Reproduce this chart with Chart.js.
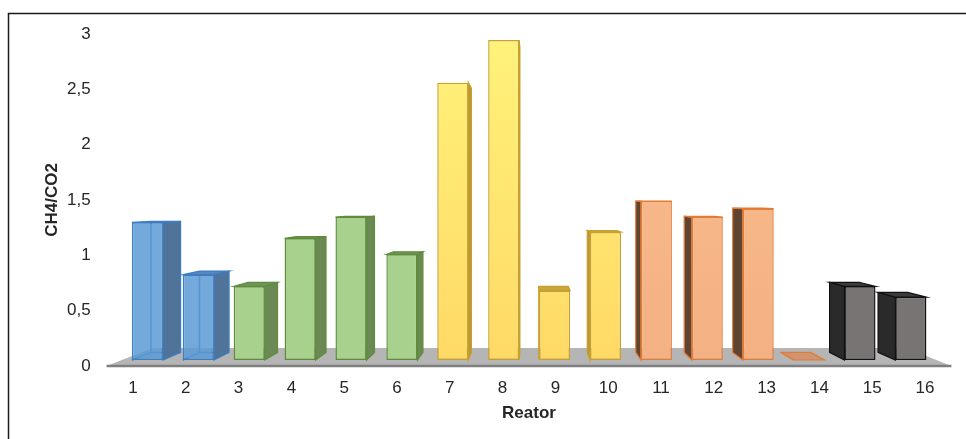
<!DOCTYPE html>
<html>
<head>
<meta charset="utf-8">
<script src="https://cdn.jsdelivr.net/npm/chart.js@4"></script>
<style>
  body { margin: 0; background: #fff; }
  #grafico { display: block; }
</style>
</head>
<body>
<canvas id="grafico" width="966" height="439"></canvas>
<script>
// dados
const reatores = ['1', '2', '3', '4', '5', '6', '7', '8', '9', '10', '11', '12', '13', '14', '15', '16'];
const ch4co2 = [1.29, 0.80, 0.69, 1.14, 1.34, 0.99, 2.60, 3.00, 0.65, 1.20, 1.49, 1.34, 1.42, 0, 0.69, 0.59];
const grupos = ['azul', 'azul', 'verde', 'verde', 'verde', 'verde', 'amarelo', 'amarelo', 'amarelo', 'amarelo',
                'laranja', 'laranja', 'laranja', 'laranja', 'preto', 'preto'];
const yMin = 0, yMax = 3, yPasso = 0.5;

// cores por grupo: frente, lateral, topo, borda
const cores = {
    azul:    { frente: 'rgba(91,155,213,0.85)', lateral: '#4f7399', topo: '#5a86b8', borda: '#3c7dc4', transparente: true },
    verde:   { frente: '#a9d18e', lateral: '#6b8a53', topo: '#6f9457', borda: '#5e8c3c' },
    amarelo: { frente: ['#fff27a', '#ffd966'], lateral: '#b8963a', topo: '#c8a540', borda: '#c9a02a' },
    laranja: { frente: ['#fbbd8e', '#f4b183'], lateral: '#5e4432', topo: '#cf9470', borda: '#e47b35' },
    preto:   { frente: '#787473', lateral: '#2b2a2a', topo: '#3d3c3c', borda: '#111111' }
};

// perspectiva (ponto de fuga e escalas das faces)
const PF = { x: 533, y: 200 };
const S_FRENTE = 0.964, S_FUNDO = 0.918, S_PISO = 0.892;

function proj(x, y, s) {
    return [PF.x + (x - PF.x) * s, PF.y + (y - PF.y) * s];
}

function poligono(ctx, pts, fill, stroke, lw) {
    ctx.beginPath();
    ctx.moveTo(pts[0][0], pts[0][1]);
    for (let i = 1; i < pts.length; i++) ctx.lineTo(pts[i][0], pts[i][1]);
    ctx.closePath();
    if (fill) { ctx.fillStyle = fill; ctx.fill(); }
    if (stroke) { ctx.strokeStyle = stroke; ctx.lineWidth = lw || 1; ctx.stroke(); }
}

function corFrente(ctx) {
    const c = cores[grupos[ctx.dataIndex]];
    if (!Array.isArray(c.frente)) return c.frente;
    const area = ctx.chart.chartArea;
    if (!area) return c.frente[1];
    const g = ctx.chart.ctx.createLinearGradient(0, area.top, 0, area.bottom);
    g.addColorStop(0, c.frente[0]);
    g.addColorStop(1, c.frente[1]);
    return g;
}

// desenha piso, laterais e topos; a frente fica com o Chart.js
const perspectiva = {
    id: 'perspectiva',
    beforeDatasetsDraw(chart) {
        const ctx = chart.ctx, a = chart.chartArea;
        ctx.save();
        poligono(ctx, [proj(a.left, a.bottom, 1), proj(a.right, a.bottom, 1),
                       proj(a.right, a.bottom, S_PISO), proj(a.left, a.bottom, S_PISO)], '#b5b5b5');
        ctx.strokeStyle = '#7f7f7f';
        ctx.lineWidth = 2.5;
        ctx.beginPath();
        ctx.moveTo(a.left, a.bottom);
        ctx.lineTo(a.right, a.bottom);
        ctx.stroke();

        const meta = chart.getDatasetMeta(0);
        meta.data.forEach((barra, i) => {
            const p = barra.getProps(['x', 'y', 'base', 'width'], true);
            const l = p.x - p.width / 2, r = p.x + p.width / 2;
            const c = cores[grupos[i]];
            const fTL = proj(l, p.y, S_FRENTE), fTR = proj(r, p.y, S_FRENTE);
            const fBL = proj(l, p.base, S_FRENTE), fBR = proj(r, p.base, S_FRENTE);
            const bTL = proj(l, p.y, S_FUNDO), bTR = proj(r, p.y, S_FUNDO);
            const bBL = proj(l, p.base, S_FUNDO), bBR = proj(r, p.base, S_FUNDO);

            if (c.transparente) {
                ctx.strokeStyle = '#2f6fc0';
                ctx.lineWidth = 1.5;
                ctx.beginPath();
                ctx.moveTo(bTL[0], bTL[1]); ctx.lineTo(bBL[0], bBL[1]); ctx.lineTo(bBR[0], bBR[1]);
                ctx.moveTo(fBL[0], fBL[1]); ctx.lineTo(bBL[0], bBL[1]);
                ctx.stroke();
            }
            if (p.x < PF.x) {
                poligono(ctx, [fTR, bTR, bBR, fBR], c.lateral, c.borda, 1.2);
            } else {
                poligono(ctx, [fTL, bTL, bBL, fBL], c.lateral, c.borda, 1.2);
            }
            if (bTL[1] < fTL[1]) {
                poligono(ctx, [fTL, fTR, bTR, bTL], c.topo, c.borda, 1.2);
            }
        });
        ctx.restore();

        ctx.save();
        ctx.translate(PF.x, PF.y);
        ctx.scale(S_FRENTE, S_FRENTE);
        ctx.translate(-PF.x, -PF.y);
    },
    afterDatasetsDraw(chart) {
        chart.ctx.restore();
    },
    afterDraw(chart) {
        const ctx = chart.ctx;
        ctx.save();
        ctx.strokeStyle = '#1a1a1a';
        ctx.lineWidth = 1.5;
        ctx.beginPath();
        ctx.moveTo(8.5, chart.height);
        ctx.lineTo(8.5, 13.5);
        ctx.lineTo(chart.width, 13.5);
        ctx.stroke();
        ctx.restore();
    }
};

Chart.defaults.font.family = "'Liberation Sans', Arial, sans-serif";
Chart.defaults.color = '#262626';

new Chart(document.getElementById('grafico'), {
    type: 'bar',
    data: {
        labels: reatores,
        datasets: [{
            data: ch4co2,
            backgroundColor: corFrente,
            borderColor: ctx => cores[grupos[ctx.dataIndex]].borda,
            borderWidth: 1.5,
            borderSkipped: false,
            barPercentage: 0.61,
            categoryPercentage: 1,
            clip: false
        }]
    },
    options: {
        responsive: false,
        animation: false,
        layout: { padding: { top: 34, right: 14.6, left: 0, bottom: 0 } },
        plugins: {
            legend: { display: false },
            tooltip: { enabled: false }
        },
        scales: {
            x: {
                offset: true,
                grid: { display: false, drawTicks: false },
                border: { display: false },
                ticks: { font: { size: 17 }, padding: 12 },
                title: {
                    display: true,
                    text: 'Reator',
                    font: { size: 17, weight: 'bold' },
                    padding: { top: 0, bottom: 15 }
                },
                afterFit: s => { s.height = 73; }
            },
            y: {
                min: yMin,
                max: yMax,
                grid: { display: false, drawTicks: false },
                border: { display: false },
                ticks: {
                    stepSize: yPasso,
                    font: { size: 17 },
                    padding: 16,
                    callback: v => String(v).replace('.', ',')
                },
                title: {
                    display: true,
                    text: 'CH4/CO2',
                    font: { size: 17, weight: 'bold' },
                    padding: { top: 42, bottom: 0 }
                },
                afterFit: s => { s.width = 106.6; }
            }
        }
    },
    plugins: [perspectiva]
});
</script>
</body>
</html>
